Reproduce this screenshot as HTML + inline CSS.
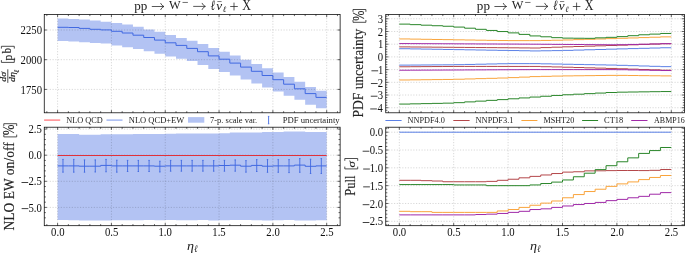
<!DOCTYPE html>
<html><head><meta charset="utf-8"><style>
html,body{margin:0;padding:0;background:#fff;}
body{width:685px;height:253px;overflow:hidden;}
svg{display:block;will-change:transform;font-family:"Liberation Serif",serif;}
</style></head><body>
<svg width="685" height="253" viewBox="0 0 685 253">
<defs>
<clipPath id="ctl"><rect x="44.25" y="14.5" width="295.87" height="98.3"/></clipPath>
<clipPath id="cbl"><rect x="44.25" y="127.2" width="295.87" height="98.5"/></clipPath>
<clipPath id="ctr"><rect x="385.75" y="14.5" width="298.65" height="98.3"/></clipPath>
<clipPath id="cbr"><rect x="385.75" y="127.2" width="298.65" height="98.5"/></clipPath>
</defs>
<g>
<rect width="685" height="253" fill="#fff"/>
<g clip-path="url(#ctl)">
<path d="M57.6 18.4 L68.36 18.4 L68.36 18.9 L79.13 18.9 L79.13 19.5 L89.89 19.5 L89.89 20.6 L100.66 20.6 L100.66 21.7 L111.42 21.7 L111.42 23.1 L122.18 23.1 L122.18 24.6 L132.95 24.6 L132.95 26.8 L143.71 26.8 L143.71 29.5 L154.48 29.5 L154.48 31.7 L165.24 31.7 L165.24 35 L176 35 L176 37.9 L186.77 37.9 L186.77 40.8 L197.53 40.8 L197.53 43.9 L208.3 43.9 L208.3 48.1 L219.06 48.1 L219.06 51.7 L229.82 51.7 L229.82 55.6 L240.59 55.6 L240.59 59.7 L251.35 59.7 L251.35 64 L262.12 64 L262.12 68.2 L272.88 68.2 L272.88 72.4 L283.64 72.4 L283.64 77 L294.41 77 L294.41 81.7 L305.17 81.7 L305.17 87 L315.94 87 L315.94 90.8 L326.7 90.8 L326.7 108.2 L315.94 108.2 L315.94 104.7 L305.17 104.7 L305.17 99.8 L294.41 99.8 L294.41 95.8 L283.64 95.8 L283.64 91.4 L272.88 91.4 L272.88 87.4 L262.12 87.4 L262.12 83.5 L251.35 83.5 L251.35 79.4 L240.59 79.4 L240.59 75.6 L229.82 75.6 L229.82 72 L219.06 72 L219.06 68.9 L208.3 68.9 L208.3 65 L197.53 65 L197.53 61 L186.77 61 L186.77 58.7 L176 58.7 L176 56.5 L165.24 56.5 L165.24 53.8 L154.48 53.8 L154.48 51.2 L143.71 51.2 L143.71 49 L132.95 49 L132.95 47.2 L122.18 47.2 L122.18 45.4 L111.42 45.4 L111.42 43.6 L100.66 43.6 L100.66 43 L89.89 43 L89.89 42.3 L79.13 42.3 L79.13 41.4 L68.36 41.4 L68.36 41 L57.6 41 Z" fill="#b3c3f3" stroke="none"/>
<path d="M57.6 112.8 V14.5 M111.42 112.8 V14.5 M165.24 112.8 V14.5 M219.06 112.8 V14.5 M272.88 112.8 V14.5 M326.7 112.8 V14.5 M44.25 30 H340.12 M44.25 59.7 H340.12 M44.25 89.4 H340.12" stroke="#000" stroke-opacity="0.2" stroke-width="0.8" stroke-dasharray="1.2 1.55" fill="none"/>
<path d="M57.6 27.3 L68.36 27.3 L68.36 27.5 L79.13 27.5 L79.13 28.4 L89.89 28.4 L89.89 29.3 L100.66 29.3 L100.66 29.9 L111.42 29.9 L111.42 31.3 L122.18 31.3 L122.18 33 L132.95 33 L132.95 35.2 L143.71 35.2 L143.71 37.5 L154.48 37.5 L154.48 40.1 L165.24 40.1 L165.24 42.8 L176 42.8 L176 45.4 L186.77 45.4 L186.77 48.4 L197.53 48.4 L197.53 51.7 L208.3 51.7 L208.3 55.9 L219.06 55.9 L219.06 59.2 L229.82 59.2 L229.82 63.1 L240.59 63.1 L240.59 67.1 L251.35 67.1 L251.35 71.3 L262.12 71.3 L262.12 75.5 L272.88 75.5 L272.88 79.7 L283.64 79.7 L283.64 84.2 L294.41 84.2 L294.41 88.8 L305.17 88.8 L305.17 93.6 L315.94 93.6 L315.94 97.4 L326.7 97.4" fill="none" stroke="#4169e1" stroke-width="1" stroke-linejoin="miter"/>
</g>
<path d="M46.84 14.5 v1.6 M46.84 112.8 v-1.6 M57.6 14.5 v2.7 M57.6 112.8 v-2.7 M68.36 14.5 v1.6 M68.36 112.8 v-1.6 M79.13 14.5 v1.6 M79.13 112.8 v-1.6 M89.89 14.5 v1.6 M89.89 112.8 v-1.6 M100.66 14.5 v1.6 M100.66 112.8 v-1.6 M111.42 14.5 v2.7 M111.42 112.8 v-2.7 M122.18 14.5 v1.6 M122.18 112.8 v-1.6 M132.95 14.5 v1.6 M132.95 112.8 v-1.6 M143.71 14.5 v1.6 M143.71 112.8 v-1.6 M154.48 14.5 v1.6 M154.48 112.8 v-1.6 M165.24 14.5 v2.7 M165.24 112.8 v-2.7 M176 14.5 v1.6 M176 112.8 v-1.6 M186.77 14.5 v1.6 M186.77 112.8 v-1.6 M197.53 14.5 v1.6 M197.53 112.8 v-1.6 M208.3 14.5 v1.6 M208.3 112.8 v-1.6 M219.06 14.5 v2.7 M219.06 112.8 v-2.7 M229.82 14.5 v1.6 M229.82 112.8 v-1.6 M240.59 14.5 v1.6 M240.59 112.8 v-1.6 M251.35 14.5 v1.6 M251.35 112.8 v-1.6 M262.12 14.5 v1.6 M262.12 112.8 v-1.6 M272.88 14.5 v2.7 M272.88 112.8 v-2.7 M283.64 14.5 v1.6 M283.64 112.8 v-1.6 M294.41 14.5 v1.6 M294.41 112.8 v-1.6 M305.17 14.5 v1.6 M305.17 112.8 v-1.6 M315.94 14.5 v1.6 M315.94 112.8 v-1.6 M326.7 14.5 v2.7 M326.7 112.8 v-2.7 M337.46 14.5 v1.6 M337.46 112.8 v-1.6 M44.25 30 h2.7 M340.12 30 h-2.7 M44.25 59.7 h2.7 M340.12 59.7 h-2.7 M44.25 89.4 h2.7 M340.12 89.4 h-2.7" stroke="#000" stroke-width="0.6" fill="none"/>
<rect x="44.25" y="14.5" width="295.87" height="98.3" fill="none" stroke="#000" stroke-width="0.75"/>
<g clip-path="url(#cbl)">
<path d="M57.6 134.1 L68.36 134.1 L68.36 134.1 L79.13 134.1 L79.13 134.7 L89.89 134.7 L89.89 134.7 L100.66 134.7 L100.66 134.2 L111.42 134.2 L111.42 134.2 L122.18 134.2 L122.18 134.2 L132.95 134.2 L132.95 134.1 L143.71 134.1 L143.71 134 L154.48 134 L154.48 134 L165.24 134 L165.24 133.7 L176 133.7 L176 133.4 L186.77 133.4 L186.77 133.4 L197.53 133.4 L197.53 133.4 L208.3 133.4 L208.3 133.4 L219.06 133.4 L219.06 133.3 L229.82 133.3 L229.82 132.5 L240.59 132.5 L240.59 132.5 L251.35 132.5 L251.35 132.5 L262.12 132.5 L262.12 132.1 L272.88 132.1 L272.88 132.1 L283.64 132.1 L283.64 131.4 L294.41 131.4 L294.41 131.4 L305.17 131.4 L305.17 132 L315.94 132 L315.94 132 L326.7 132 L326.7 220.2 L315.94 220.2 L315.94 220.5 L305.17 220.5 L305.17 220.6 L294.41 220.6 L294.41 220.1 L283.64 220.1 L283.64 220.2 L272.88 220.2 L272.88 220.4 L262.12 220.4 L262.12 220.3 L251.35 220.3 L251.35 220.1 L240.59 220.1 L240.59 219.9 L229.82 219.9 L229.82 220.3 L219.06 220.3 L219.06 220.4 L208.3 220.4 L208.3 220 L197.53 220 L197.53 220.3 L186.77 220.3 L186.77 220.2 L176 220.2 L176 220.1 L165.24 220.1 L165.24 220.3 L154.48 220.3 L154.48 220.1 L143.71 220.1 L143.71 220.3 L132.95 220.3 L132.95 220.2 L122.18 220.2 L122.18 220.3 L111.42 220.3 L111.42 220.5 L100.66 220.5 L100.66 220.4 L89.89 220.4 L89.89 220.4 L79.13 220.4 L79.13 220.3 L68.36 220.3 L68.36 220.1 L57.6 220.1 Z" fill="#b3c3f3" stroke="none"/>
<path d="M57.6 225.7 V127.2 M111.42 225.7 V127.2 M165.24 225.7 V127.2 M219.06 225.7 V127.2 M272.88 225.7 V127.2 M326.7 225.7 V127.2 M44.25 129.1 H340.12 M44.25 155.2 H340.12 M44.25 181.3 H340.12 M44.25 207.4 H340.12" stroke="#000" stroke-opacity="0.2" stroke-width="0.8" stroke-dasharray="1.2 1.55" fill="none"/>
<path d="M57.6 165.9 L68.36 165.9 L68.36 165.9 L79.13 165.9 L79.13 166.2 L89.89 166.2 L89.89 166.2 L100.66 166.2 L100.66 165.4 L111.42 165.4 L111.42 165.9 L122.18 165.9 L122.18 165.9 L132.95 165.9 L132.95 165.9 L143.71 165.9 L143.71 165.9 L154.48 165.9 L154.48 166.2 L165.24 166.2 L165.24 165.9 L176 165.9 L176 165.9 L186.77 165.9 L186.77 165.9 L197.53 165.9 L197.53 165.9 L208.3 165.9 L208.3 165.9 L219.06 165.9 L219.06 165.5 L229.82 165.5 L229.82 165.2 L240.59 165.2 L240.59 166.2 L251.35 166.2 L251.35 165.4 L262.12 165.4 L262.12 166.2 L272.88 166.2 L272.88 165.9 L283.64 165.9 L283.64 165.9 L294.41 165.9 L294.41 165.1 L305.17 165.1 L305.17 166.3 L315.94 166.3 L315.94 165.9 L326.7 165.9" fill="none" stroke="#4169e1" stroke-width="1"/>
<path d="M62.98 159.4 V172.2 M62.28 159.4 h1.4 M62.28 172.2 h1.4 M73.75 159.4 V172.2 M73.05 159.4 h1.4 M73.05 172.2 h1.4 M84.51 159.9 V172.2 M83.81 159.9 h1.4 M83.81 172.2 h1.4 M95.27 159.9 V172 M94.57 159.9 h1.4 M94.57 172 h1.4 M106.04 159.4 V171.8 M105.34 159.4 h1.4 M105.34 171.8 h1.4 M116.8 160.2 V172.2 M116.1 160.2 h1.4 M116.1 172.2 h1.4 M127.57 160.4 V171.5 M126.87 160.4 h1.4 M126.87 171.5 h1.4 M138.33 160.4 V171.5 M137.63 160.4 h1.4 M137.63 171.5 h1.4 M149.09 160.4 V171.5 M148.39 160.4 h1.4 M148.39 171.5 h1.4 M159.86 161.2 V172 M159.16 161.2 h1.4 M159.16 172 h1.4 M170.62 160.4 V171.2 M169.92 160.4 h1.4 M169.92 171.2 h1.4 M181.39 160.4 V171.2 M180.69 160.4 h1.4 M180.69 171.2 h1.4 M192.15 160.4 V171.2 M191.45 160.4 h1.4 M191.45 171.2 h1.4 M202.91 160.4 V171.2 M202.21 160.4 h1.4 M202.21 171.2 h1.4 M213.68 160.6 V171.2 M212.98 160.6 h1.4 M212.98 171.2 h1.4 M224.44 160.4 V171.2 M223.74 160.4 h1.4 M223.74 171.2 h1.4 M235.21 159.9 V171.2 M234.51 159.9 h1.4 M234.51 171.2 h1.4 M245.97 160.6 V172.2 M245.27 160.6 h1.4 M245.27 172.2 h1.4 M256.73 159.6 V171.5 M256.03 159.6 h1.4 M256.03 171.5 h1.4 M267.5 159.6 V172.3 M266.8 159.6 h1.4 M266.8 172.3 h1.4 M278.26 159.6 V172.3 M277.56 159.6 h1.4 M277.56 172.3 h1.4 M289.03 159.6 V172.6 M288.33 159.6 h1.4 M288.33 172.6 h1.4 M299.79 158.6 V172.3 M299.09 158.6 h1.4 M299.09 172.3 h1.4 M310.55 159.2 V173.5 M309.85 159.2 h1.4 M309.85 173.5 h1.4 M321.32 158.6 V173.5 M320.62 158.6 h1.4 M320.62 173.5 h1.4" fill="none" stroke="#4169e1" stroke-width="0.9"/>
<line x1="57.6" y1="155.5" x2="326.7" y2="155.5" stroke="#e0313a" stroke-width="1.1" />
</g>
<path d="M46.84 127.2 v1.6 M46.84 225.7 v-1.6 M57.6 127.2 v2.7 M57.6 225.7 v-2.7 M68.36 127.2 v1.6 M68.36 225.7 v-1.6 M79.13 127.2 v1.6 M79.13 225.7 v-1.6 M89.89 127.2 v1.6 M89.89 225.7 v-1.6 M100.66 127.2 v1.6 M100.66 225.7 v-1.6 M111.42 127.2 v2.7 M111.42 225.7 v-2.7 M122.18 127.2 v1.6 M122.18 225.7 v-1.6 M132.95 127.2 v1.6 M132.95 225.7 v-1.6 M143.71 127.2 v1.6 M143.71 225.7 v-1.6 M154.48 127.2 v1.6 M154.48 225.7 v-1.6 M165.24 127.2 v2.7 M165.24 225.7 v-2.7 M176 127.2 v1.6 M176 225.7 v-1.6 M186.77 127.2 v1.6 M186.77 225.7 v-1.6 M197.53 127.2 v1.6 M197.53 225.7 v-1.6 M208.3 127.2 v1.6 M208.3 225.7 v-1.6 M219.06 127.2 v2.7 M219.06 225.7 v-2.7 M229.82 127.2 v1.6 M229.82 225.7 v-1.6 M240.59 127.2 v1.6 M240.59 225.7 v-1.6 M251.35 127.2 v1.6 M251.35 225.7 v-1.6 M262.12 127.2 v1.6 M262.12 225.7 v-1.6 M272.88 127.2 v2.7 M272.88 225.7 v-2.7 M283.64 127.2 v1.6 M283.64 225.7 v-1.6 M294.41 127.2 v1.6 M294.41 225.7 v-1.6 M305.17 127.2 v1.6 M305.17 225.7 v-1.6 M315.94 127.2 v1.6 M315.94 225.7 v-1.6 M326.7 127.2 v2.7 M326.7 225.7 v-2.7 M337.46 127.2 v1.6 M337.46 225.7 v-1.6 M44.25 129.1 h2.7 M340.12 129.1 h-2.7 M44.25 155.2 h2.7 M340.12 155.2 h-2.7 M44.25 181.3 h2.7 M340.12 181.3 h-2.7 M44.25 207.4 h2.7 M340.12 207.4 h-2.7 M44.25 134.32 h1.6 M340.12 134.32 h-1.6 M44.25 139.54 h1.6 M340.12 139.54 h-1.6 M44.25 144.76 h1.6 M340.12 144.76 h-1.6 M44.25 149.98 h1.6 M340.12 149.98 h-1.6 M44.25 160.42 h1.6 M340.12 160.42 h-1.6 M44.25 165.64 h1.6 M340.12 165.64 h-1.6 M44.25 170.86 h1.6 M340.12 170.86 h-1.6 M44.25 176.08 h1.6 M340.12 176.08 h-1.6 M44.25 186.52 h1.6 M340.12 186.52 h-1.6 M44.25 191.74 h1.6 M340.12 191.74 h-1.6 M44.25 196.96 h1.6 M340.12 196.96 h-1.6 M44.25 202.18 h1.6 M340.12 202.18 h-1.6 M44.25 212.62 h1.6 M340.12 212.62 h-1.6 M44.25 217.84 h1.6 M340.12 217.84 h-1.6" stroke="#000" stroke-width="0.6" fill="none"/>
<rect x="44.25" y="127.2" width="295.87" height="98.5" fill="none" stroke="#000" stroke-width="0.75"/>
<g clip-path="url(#ctr)">
<path d="M399.3 112.8 V14.5 M453.7 112.8 V14.5 M508.1 112.8 V14.5 M562.5 112.8 V14.5 M616.9 112.8 V14.5 M671.3 112.8 V14.5 M385.75 18.77 H684.4 M385.75 31.48 H684.4 M385.75 44.19 H684.4 M385.75 56.9 H684.4 M385.75 69.61 H684.4 M385.75 82.32 H684.4 M385.75 95.03 H684.4 M385.75 107.74 H684.4" stroke="#000" stroke-opacity="0.2" stroke-width="0.8" stroke-dasharray="1.2 1.55" fill="none"/>
<path d="M399.3 48.73 L410.18 48.73 L410.18 48.91 L421.06 48.91 L421.06 49.1 L431.94 49.1 L431.94 49.28 L442.82 49.28 L442.82 49.46 L453.7 49.46 L453.7 49.65 L464.58 49.65 L464.58 49.83 L475.46 49.83 L475.46 50.01 L486.34 50.01 L486.34 50.19 L497.22 50.19 L497.22 50.38 L508.1 50.38 L508.1 50.56 L518.98 50.56 L518.98 50.74 L529.86 50.74 L529.86 50.93 L540.74 50.93 L540.74 50.77 L551.62 50.77 L551.62 50.62 L562.5 50.62 L562.5 50.39 L573.38 50.39 L573.38 50.09 L584.26 50.09 L584.26 49.78 L595.14 49.78 L595.14 49.48 L606.02 49.48 L606.02 49.17 L616.9 49.17 L616.9 48.88 L627.78 48.88 L627.78 48.6 L638.66 48.6 L638.66 48.32 L649.54 48.32 L649.54 48.04 L660.42 48.04 L660.42 47.76 L671.3 47.76" fill="none" stroke="#5b80e6" stroke-width="1"/>
<path d="M399.3 65.12 L410.18 65.12 L410.18 65.05 L421.06 65.05 L421.06 64.97 L431.94 64.97 L431.94 64.89 L442.82 64.89 L442.82 64.82 L453.7 64.82 L453.7 64.67 L464.58 64.67 L464.58 64.44 L475.46 64.44 L475.46 64.21 L486.34 64.21 L486.34 63.98 L497.22 63.98 L497.22 63.75 L508.1 63.75 L508.1 63.64 L518.98 63.64 L518.98 63.64 L529.86 63.64 L529.86 63.64 L540.74 63.64 L540.74 63.84 L551.62 63.84 L551.62 64.04 L562.5 64.04 L562.5 64.25 L573.38 64.25 L573.38 64.45 L584.26 64.45 L584.26 64.65 L595.14 64.65 L595.14 64.86 L606.02 64.86 L606.02 65.06 L616.9 65.06 L616.9 65.33 L627.78 65.33 L627.78 65.66 L638.66 65.66 L638.66 65.99 L649.54 65.99 L649.54 66.32 L660.42 66.32 L660.42 66.65 L671.3 66.65" fill="none" stroke="#5b80e6" stroke-width="1"/>
<path d="M399.3 46.9 L410.18 46.9 L410.18 47 L421.06 47 L421.06 47.09 L431.94 47.09 L431.94 47.18 L442.82 47.18 L442.82 47.27 L453.7 47.27 L453.7 47.36 L464.58 47.36 L464.58 47.45 L475.46 47.45 L475.46 47.55 L486.34 47.55 L486.34 47.64 L497.22 47.64 L497.22 47.73 L508.1 47.73 L508.1 47.82 L518.98 47.82 L518.98 47.91 L529.86 47.91 L529.86 48 L540.74 48 L540.74 47.6 L551.62 47.6 L551.62 47.19 L562.5 47.19 L562.5 46.82 L573.38 46.82 L573.38 46.49 L584.26 46.49 L584.26 46.16 L595.14 46.16 L595.14 45.83 L606.02 45.83 L606.02 45.5 L616.9 45.5 L616.9 45.16 L627.78 45.16 L627.78 44.8 L638.66 44.8 L638.66 44.44 L649.54 44.44 L649.54 44.09 L660.42 44.09 L660.42 43.73 L671.3 43.73" fill="none" stroke="#b4474a" stroke-width="1"/>
<path d="M399.3 66.78 L410.18 66.78 L410.18 66.7 L421.06 66.7 L421.06 66.62 L431.94 66.62 L431.94 66.55 L442.82 66.55 L442.82 66.47 L453.7 66.47 L453.7 66.43 L464.58 66.43 L464.58 66.43 L475.46 66.43 L475.46 66.43 L486.34 66.43 L486.34 66.43 L497.22 66.43 L497.22 66.43 L508.1 66.43 L508.1 66.43 L518.98 66.43 L518.98 66.43 L529.86 66.43 L529.86 66.43 L540.74 66.43 L540.74 66.69 L551.62 66.69 L551.62 66.94 L562.5 66.94 L562.5 67.22 L573.38 67.22 L573.38 67.53 L584.26 67.53 L584.26 67.83 L595.14 67.83 L595.14 68.14 L606.02 68.14 L606.02 68.44 L616.9 68.44 L616.9 68.77 L627.78 68.77 L627.78 69.13 L638.66 69.13 L638.66 69.48 L649.54 69.48 L649.54 69.84 L660.42 69.84 L660.42 70.19 L671.3 70.19" fill="none" stroke="#b4474a" stroke-width="1"/>
<path d="M399.3 38.94 L410.18 38.94 L410.18 39.12 L421.06 39.12 L421.06 39.3 L431.94 39.3 L431.94 39.47 L442.82 39.47 L442.82 39.65 L453.7 39.65 L453.7 39.83 L464.58 39.83 L464.58 40.01 L475.46 40.01 L475.46 40.19 L486.34 40.19 L486.34 40.36 L497.22 40.36 L497.22 40.54 L508.1 40.54 L508.1 40.63 L518.98 40.63 L518.98 40.63 L529.86 40.63 L529.86 40.63 L540.74 40.63 L540.74 40.43 L551.62 40.43 L551.62 40.22 L562.5 40.22 L562.5 39.96 L573.38 39.96 L573.38 39.63 L584.26 39.63 L584.26 39.3 L595.14 39.3 L595.14 38.97 L606.02 38.97 L606.02 38.64 L616.9 38.64 L616.9 38.29 L627.78 38.29 L627.78 37.94 L638.66 37.94 L638.66 37.58 L649.54 37.58 L649.54 37.22 L660.42 37.22 L660.42 36.87 L671.3 36.87" fill="none" stroke="#f9a43c" stroke-width="1"/>
<path d="M399.3 79.97 L410.18 79.97 L410.18 79.84 L421.06 79.84 L421.06 79.71 L431.94 79.71 L431.94 79.59 L442.82 79.59 L442.82 79.46 L453.7 79.46 L453.7 79.24 L464.58 79.24 L464.58 78.94 L475.46 78.94 L475.46 78.63 L486.34 78.63 L486.34 78.33 L497.22 78.33 L497.22 78.02 L508.1 78.02 L508.1 77.62 L518.98 77.62 L518.98 77.11 L529.86 77.11 L529.86 76.6 L540.74 76.6 L540.74 76.35 L551.62 76.35 L551.62 76.09 L562.5 76.09 L562.5 75.9 L573.38 75.9 L573.38 75.77 L584.26 75.77 L584.26 75.65 L595.14 75.65 L595.14 75.52 L606.02 75.52 L606.02 75.39 L616.9 75.39 L616.9 75.39 L627.78 75.39 L627.78 75.52 L638.66 75.52 L638.66 75.65 L649.54 75.65 L649.54 75.77 L660.42 75.77 L660.42 75.9 L671.3 75.9" fill="none" stroke="#f9a43c" stroke-width="1"/>
<path d="M399.3 24.12 L410.18 24.12 L410.18 24.65 L421.06 24.65 L421.06 25.19 L431.94 25.19 L431.94 25.72 L442.82 25.72 L442.82 26.26 L453.7 26.26 L453.7 27.08 L464.58 27.08 L464.58 28.2 L475.46 28.2 L475.46 29.32 L486.34 29.32 L486.34 30.44 L497.22 30.44 L497.22 31.56 L508.1 31.56 L508.1 32.88 L518.98 32.88 L518.98 34.4 L529.86 34.4 L529.86 35.93 L540.74 35.93 L540.74 36.79 L551.62 36.79 L551.62 37.66 L562.5 37.66 L562.5 38.14 L573.38 38.14 L573.38 38.24 L584.26 38.24 L584.26 38.34 L595.14 38.34 L595.14 37.83 L606.02 37.83 L606.02 37.33 L616.9 37.33 L616.9 36.61 L627.78 36.61 L627.78 35.7 L638.66 35.7 L638.66 34.78 L649.54 34.78 L649.54 34.12 L660.42 34.12 L660.42 33.46 L671.3 33.46" fill="none" stroke="#2a862a" stroke-width="1"/>
<path d="M399.3 104.07 L410.18 104.07 L410.18 103.84 L421.06 103.84 L421.06 103.61 L431.94 103.61 L431.94 103.38 L442.82 103.38 L442.82 103.15 L453.7 103.15 L453.7 102.66 L464.58 102.66 L464.58 101.89 L475.46 101.89 L475.46 101.13 L486.34 101.13 L486.34 100.37 L497.22 100.37 L497.22 99.61 L508.1 99.61 L508.1 98.79 L518.98 98.79 L518.98 97.93 L529.86 97.93 L529.86 97.06 L540.74 97.06 L540.74 96.25 L551.62 96.25 L551.62 95.44 L562.5 95.44 L562.5 94.75 L573.38 94.75 L573.38 94.19 L584.26 94.19 L584.26 93.63 L595.14 93.63 L595.14 93.07 L606.02 93.07 L606.02 92.51 L616.9 92.51 L616.9 92.16 L627.78 92.16 L627.78 92.01 L638.66 92.01 L638.66 91.85 L649.54 91.85 L649.54 91.7 L660.42 91.7 L660.42 91.55 L671.3 91.55" fill="none" stroke="#2a862a" stroke-width="1"/>
<path d="M399.3 43.58 L410.18 43.58 L410.18 43.63 L421.06 43.63 L421.06 43.68 L431.94 43.68 L431.94 43.73 L442.82 43.73 L442.82 43.78 L453.7 43.78 L453.7 43.83 L464.58 43.83 L464.58 43.88 L475.46 43.88 L475.46 43.94 L486.34 43.94 L486.34 43.99 L497.22 43.99 L497.22 44.04 L508.1 44.04 L508.1 44.09 L518.98 44.09 L518.98 44.14 L529.86 44.14 L529.86 44.19 L540.74 44.19 L540.74 44.27 L551.62 44.27 L551.62 44.36 L562.5 44.36 L562.5 44.44 L573.38 44.44 L573.38 44.53 L584.26 44.53 L584.26 44.61 L595.14 44.61 L595.14 44.7 L606.02 44.7 L606.02 44.78 L616.9 44.78 L616.9 44.7 L627.78 44.7 L627.78 44.44 L638.66 44.44 L638.66 44.19 L649.54 44.19 L649.54 43.94 L660.42 43.94 L660.42 43.68 L671.3 43.68" fill="none" stroke="#a02aa8" stroke-width="1"/>
<path d="M399.3 70.22 L410.18 70.22 L410.18 70.17 L421.06 70.17 L421.06 70.12 L431.94 70.12 L431.94 70.07 L442.82 70.07 L442.82 70.02 L453.7 70.02 L453.7 69.97 L464.58 69.97 L464.58 69.92 L475.46 69.92 L475.46 69.86 L486.34 69.86 L486.34 69.81 L497.22 69.81 L497.22 69.76 L508.1 69.76 L508.1 69.71 L518.98 69.71 L518.98 69.66 L529.86 69.66 L529.86 69.61 L540.74 69.61 L540.74 69.61 L551.62 69.61 L551.62 69.61 L562.5 69.61 L562.5 69.61 L573.38 69.61 L573.38 69.61 L584.26 69.61 L584.26 69.61 L595.14 69.61 L595.14 69.61 L606.02 69.61 L606.02 69.61 L616.9 69.61 L616.9 69.71 L627.78 69.71 L627.78 69.92 L638.66 69.92 L638.66 70.12 L649.54 70.12 L649.54 70.32 L660.42 70.32 L660.42 70.53 L671.3 70.53" fill="none" stroke="#a02aa8" stroke-width="1"/>
</g>
<path d="M388.42 14.5 v1.6 M388.42 112.8 v-1.6 M399.3 14.5 v2.7 M399.3 112.8 v-2.7 M410.18 14.5 v1.6 M410.18 112.8 v-1.6 M421.06 14.5 v1.6 M421.06 112.8 v-1.6 M431.94 14.5 v1.6 M431.94 112.8 v-1.6 M442.82 14.5 v1.6 M442.82 112.8 v-1.6 M453.7 14.5 v2.7 M453.7 112.8 v-2.7 M464.58 14.5 v1.6 M464.58 112.8 v-1.6 M475.46 14.5 v1.6 M475.46 112.8 v-1.6 M486.34 14.5 v1.6 M486.34 112.8 v-1.6 M497.22 14.5 v1.6 M497.22 112.8 v-1.6 M508.1 14.5 v2.7 M508.1 112.8 v-2.7 M518.98 14.5 v1.6 M518.98 112.8 v-1.6 M529.86 14.5 v1.6 M529.86 112.8 v-1.6 M540.74 14.5 v1.6 M540.74 112.8 v-1.6 M551.62 14.5 v1.6 M551.62 112.8 v-1.6 M562.5 14.5 v2.7 M562.5 112.8 v-2.7 M573.38 14.5 v1.6 M573.38 112.8 v-1.6 M584.26 14.5 v1.6 M584.26 112.8 v-1.6 M595.14 14.5 v1.6 M595.14 112.8 v-1.6 M606.02 14.5 v1.6 M606.02 112.8 v-1.6 M616.9 14.5 v2.7 M616.9 112.8 v-2.7 M627.78 14.5 v1.6 M627.78 112.8 v-1.6 M638.66 14.5 v1.6 M638.66 112.8 v-1.6 M649.54 14.5 v1.6 M649.54 112.8 v-1.6 M660.42 14.5 v1.6 M660.42 112.8 v-1.6 M671.3 14.5 v2.7 M671.3 112.8 v-2.7 M682.18 14.5 v1.6 M682.18 112.8 v-1.6 M385.75 18.77 h2.7 M684.4 18.77 h-2.7 M385.75 31.48 h2.7 M684.4 31.48 h-2.7 M385.75 44.19 h2.7 M684.4 44.19 h-2.7 M385.75 56.9 h2.7 M684.4 56.9 h-2.7 M385.75 69.61 h2.7 M684.4 69.61 h-2.7 M385.75 82.32 h2.7 M684.4 82.32 h-2.7 M385.75 95.03 h2.7 M684.4 95.03 h-2.7 M385.75 107.74 h2.7 M684.4 107.74 h-2.7 M385.75 16.23 h1.6 M684.4 16.23 h-1.6 M385.75 21.31 h1.6 M684.4 21.31 h-1.6 M385.75 23.85 h1.6 M684.4 23.85 h-1.6 M385.75 26.4 h1.6 M684.4 26.4 h-1.6 M385.75 28.94 h1.6 M684.4 28.94 h-1.6 M385.75 34.02 h1.6 M684.4 34.02 h-1.6 M385.75 36.56 h1.6 M684.4 36.56 h-1.6 M385.75 39.11 h1.6 M684.4 39.11 h-1.6 M385.75 41.65 h1.6 M684.4 41.65 h-1.6 M385.75 46.73 h1.6 M684.4 46.73 h-1.6 M385.75 49.27 h1.6 M684.4 49.27 h-1.6 M385.75 51.82 h1.6 M684.4 51.82 h-1.6 M385.75 54.36 h1.6 M684.4 54.36 h-1.6 M385.75 59.44 h1.6 M684.4 59.44 h-1.6 M385.75 61.98 h1.6 M684.4 61.98 h-1.6 M385.75 64.53 h1.6 M684.4 64.53 h-1.6 M385.75 67.07 h1.6 M684.4 67.07 h-1.6 M385.75 72.15 h1.6 M684.4 72.15 h-1.6 M385.75 74.69 h1.6 M684.4 74.69 h-1.6 M385.75 77.24 h1.6 M684.4 77.24 h-1.6 M385.75 79.78 h1.6 M684.4 79.78 h-1.6 M385.75 84.86 h1.6 M684.4 84.86 h-1.6 M385.75 87.4 h1.6 M684.4 87.4 h-1.6 M385.75 89.95 h1.6 M684.4 89.95 h-1.6 M385.75 92.49 h1.6 M684.4 92.49 h-1.6 M385.75 97.57 h1.6 M684.4 97.57 h-1.6 M385.75 100.11 h1.6 M684.4 100.11 h-1.6 M385.75 102.66 h1.6 M684.4 102.66 h-1.6 M385.75 105.2 h1.6 M684.4 105.2 h-1.6 M385.75 110.28 h1.6 M684.4 110.28 h-1.6" stroke="#000" stroke-width="0.6" fill="none"/>
<rect x="385.75" y="14.5" width="298.65" height="98.3" fill="none" stroke="#000" stroke-width="0.75"/>
<g clip-path="url(#cbr)">
<path d="M399.3 225.7 V127.2 M453.7 225.7 V127.2 M508.1 225.7 V127.2 M562.5 225.7 V127.2 M616.9 225.7 V127.2 M671.3 225.7 V127.2 M385.75 132.2 H684.4 M385.75 150.02 H684.4 M385.75 167.84 H684.4 M385.75 185.66 H684.4 M385.75 203.48 H684.4 M385.75 221.3 H684.4" stroke="#000" stroke-opacity="0.2" stroke-width="0.8" stroke-dasharray="1.2 1.55" fill="none"/>
<line x1="399.3" y1="132.2" x2="671.3" y2="132.2" stroke="#5b80e6" stroke-width="1" />
<path d="M399.3 180.31 L410.18 180.31 L410.18 180.31 L421.06 180.31 L421.06 180.67 L431.94 180.67 L431.94 181.03 L442.82 181.03 L442.82 181.74 L453.7 181.74 L453.7 181.74 L464.58 181.74 L464.58 181.74 L475.46 181.74 L475.46 181.74 L486.34 181.74 L486.34 181.38 L497.22 181.38 L497.22 180.31 L508.1 180.31 L508.1 179.24 L518.98 179.24 L518.98 177.82 L529.86 177.82 L529.86 176.39 L540.74 176.39 L540.74 174.97 L551.62 174.97 L551.62 173.54 L562.5 173.54 L562.5 172.12 L573.38 172.12 L573.38 171.76 L584.26 171.76 L584.26 170.87 L595.14 170.87 L595.14 170.8 L606.02 170.8 L606.02 170.62 L616.9 170.62 L616.9 170.51 L627.78 170.51 L627.78 170.51 L638.66 170.51 L638.66 170.58 L649.54 170.58 L649.54 170.33 L660.42 170.33 L660.42 169.52 L671.3 169.52" fill="none" stroke="#b4474a" stroke-width="1"/>
<path d="M399.3 184.59 L410.18 184.59 L410.18 184.59 L421.06 184.59 L421.06 184.59 L431.94 184.59 L431.94 184.59 L442.82 184.59 L442.82 184.59 L453.7 184.59 L453.7 184.95 L464.58 184.95 L464.58 184.95 L475.46 184.95 L475.46 184.95 L486.34 184.95 L486.34 185.66 L497.22 185.66 L497.22 185.66 L508.1 185.66 L508.1 185.66 L518.98 185.66 L518.98 185.66 L529.86 185.66 L529.86 184.95 L540.74 184.95 L540.74 183.52 L551.62 183.52 L551.62 182.1 L562.5 182.1 L562.5 179.96 L573.38 179.96 L573.38 176.75 L584.26 176.75 L584.26 173.19 L595.14 173.19 L595.14 169.62 L606.02 169.62 L606.02 165.7 L616.9 165.7 L616.9 161.78 L627.78 161.78 L627.78 157.86 L638.66 157.86 L638.66 153.41 L649.54 153.41 L649.54 150.59 L660.42 150.59 L660.42 147.49 L671.3 147.49" fill="none" stroke="#2a862a" stroke-width="1"/>
<path d="M399.3 211.32 L410.18 211.32 L410.18 211.68 L421.06 211.68 L421.06 211.68 L431.94 211.68 L431.94 212.39 L442.82 212.39 L442.82 212.39 L453.7 212.39 L453.7 212.39 L464.58 212.39 L464.58 212.39 L475.46 212.39 L475.46 212.39 L486.34 212.39 L486.34 212.39 L497.22 212.39 L497.22 210.96 L508.1 210.96 L508.1 209.54 L518.98 209.54 L518.98 207.4 L529.86 207.4 L529.86 205.26 L540.74 205.26 L540.74 203.12 L551.62 203.12 L551.62 200.99 L562.5 200.99 L562.5 197.78 L573.38 197.78 L573.38 194.57 L584.26 194.57 L584.26 191.54 L595.14 191.54 L595.14 189.22 L606.02 189.22 L606.02 186.37 L616.9 186.37 L616.9 183.88 L627.78 183.88 L627.78 181.92 L638.66 181.92 L638.66 179.6 L649.54 179.6 L649.54 177.46 L660.42 177.46 L660.42 175.5 L671.3 175.5" fill="none" stroke="#f9a43c" stroke-width="1"/>
<path d="M399.3 214.88 L410.18 214.88 L410.18 214.88 L421.06 214.88 L421.06 214.88 L431.94 214.88 L431.94 214.88 L442.82 214.88 L442.82 214.88 L453.7 214.88 L453.7 214.88 L464.58 214.88 L464.58 214.88 L475.46 214.88 L475.46 214.53 L486.34 214.53 L486.34 214.17 L497.22 214.17 L497.22 213.46 L508.1 213.46 L508.1 212.39 L518.98 212.39 L518.98 211.32 L529.86 211.32 L529.86 209.54 L540.74 209.54 L540.74 208.83 L551.62 208.83 L551.62 207.4 L562.5 207.4 L562.5 205.97 L573.38 205.97 L573.38 204.55 L584.26 204.55 L584.26 203.48 L595.14 203.48 L595.14 202.41 L606.02 202.41 L606.02 200.63 L616.9 200.63 L616.9 199.38 L627.78 199.38 L627.78 197.78 L638.66 197.78 L638.66 196.35 L649.54 196.35 L649.54 194.21 L660.42 194.21 L660.42 192.61 L671.3 192.61" fill="none" stroke="#a02aa8" stroke-width="1"/>
</g>
<path d="M388.42 127.2 v1.6 M388.42 225.7 v-1.6 M399.3 127.2 v2.7 M399.3 225.7 v-2.7 M410.18 127.2 v1.6 M410.18 225.7 v-1.6 M421.06 127.2 v1.6 M421.06 225.7 v-1.6 M431.94 127.2 v1.6 M431.94 225.7 v-1.6 M442.82 127.2 v1.6 M442.82 225.7 v-1.6 M453.7 127.2 v2.7 M453.7 225.7 v-2.7 M464.58 127.2 v1.6 M464.58 225.7 v-1.6 M475.46 127.2 v1.6 M475.46 225.7 v-1.6 M486.34 127.2 v1.6 M486.34 225.7 v-1.6 M497.22 127.2 v1.6 M497.22 225.7 v-1.6 M508.1 127.2 v2.7 M508.1 225.7 v-2.7 M518.98 127.2 v1.6 M518.98 225.7 v-1.6 M529.86 127.2 v1.6 M529.86 225.7 v-1.6 M540.74 127.2 v1.6 M540.74 225.7 v-1.6 M551.62 127.2 v1.6 M551.62 225.7 v-1.6 M562.5 127.2 v2.7 M562.5 225.7 v-2.7 M573.38 127.2 v1.6 M573.38 225.7 v-1.6 M584.26 127.2 v1.6 M584.26 225.7 v-1.6 M595.14 127.2 v1.6 M595.14 225.7 v-1.6 M606.02 127.2 v1.6 M606.02 225.7 v-1.6 M616.9 127.2 v2.7 M616.9 225.7 v-2.7 M627.78 127.2 v1.6 M627.78 225.7 v-1.6 M638.66 127.2 v1.6 M638.66 225.7 v-1.6 M649.54 127.2 v1.6 M649.54 225.7 v-1.6 M660.42 127.2 v1.6 M660.42 225.7 v-1.6 M671.3 127.2 v2.7 M671.3 225.7 v-2.7 M682.18 127.2 v1.6 M682.18 225.7 v-1.6 M385.75 132.2 h2.7 M684.4 132.2 h-2.7 M385.75 150.02 h2.7 M684.4 150.02 h-2.7 M385.75 167.84 h2.7 M684.4 167.84 h-2.7 M385.75 185.66 h2.7 M684.4 185.66 h-2.7 M385.75 203.48 h2.7 M684.4 203.48 h-2.7 M385.75 221.3 h2.7 M684.4 221.3 h-2.7 M385.75 128.64 h1.6 M684.4 128.64 h-1.6 M385.75 135.76 h1.6 M684.4 135.76 h-1.6 M385.75 139.33 h1.6 M684.4 139.33 h-1.6 M385.75 142.89 h1.6 M684.4 142.89 h-1.6 M385.75 146.46 h1.6 M684.4 146.46 h-1.6 M385.75 153.58 h1.6 M684.4 153.58 h-1.6 M385.75 157.15 h1.6 M684.4 157.15 h-1.6 M385.75 160.71 h1.6 M684.4 160.71 h-1.6 M385.75 164.28 h1.6 M684.4 164.28 h-1.6 M385.75 171.4 h1.6 M684.4 171.4 h-1.6 M385.75 174.97 h1.6 M684.4 174.97 h-1.6 M385.75 178.53 h1.6 M684.4 178.53 h-1.6 M385.75 182.1 h1.6 M684.4 182.1 h-1.6 M385.75 189.22 h1.6 M684.4 189.22 h-1.6 M385.75 192.79 h1.6 M684.4 192.79 h-1.6 M385.75 196.35 h1.6 M684.4 196.35 h-1.6 M385.75 199.92 h1.6 M684.4 199.92 h-1.6 M385.75 207.04 h1.6 M684.4 207.04 h-1.6 M385.75 210.61 h1.6 M684.4 210.61 h-1.6 M385.75 214.17 h1.6 M684.4 214.17 h-1.6 M385.75 217.74 h1.6 M684.4 217.74 h-1.6 M385.75 224.86 h1.6 M684.4 224.86 h-1.6" stroke="#000" stroke-width="0.6" fill="none"/>
<rect x="385.75" y="127.2" width="298.65" height="98.5" fill="none" stroke="#000" stroke-width="0.75"/>
<text x="51.11" y="235.9" font-size="11.7" font-family="Liberation Serif" fill="#111" textLength="13.38" lengthAdjust="spacingAndGlyphs" >0.0</text>
<text x="104.94" y="235.9" font-size="11.7" font-family="Liberation Serif" fill="#111" textLength="13.38" lengthAdjust="spacingAndGlyphs" >0.5</text>
<text x="158.49" y="235.9" font-size="11.7" font-family="Liberation Serif" fill="#111" textLength="13.38" lengthAdjust="spacingAndGlyphs" >1.0</text>
<text x="212.31" y="235.9" font-size="11.7" font-family="Liberation Serif" fill="#111" textLength="13.38" lengthAdjust="spacingAndGlyphs" >1.5</text>
<text x="266.36" y="235.9" font-size="11.7" font-family="Liberation Serif" fill="#111" textLength="13.38" lengthAdjust="spacingAndGlyphs" >2.0</text>
<text x="320.19" y="235.9" font-size="11.7" font-family="Liberation Serif" fill="#111" textLength="13.38" lengthAdjust="spacingAndGlyphs" >2.5</text>
<text x="392.81" y="235.9" font-size="11.7" font-family="Liberation Serif" fill="#111" textLength="13.38" lengthAdjust="spacingAndGlyphs" >0.0</text>
<text x="447.22" y="235.9" font-size="11.7" font-family="Liberation Serif" fill="#111" textLength="13.38" lengthAdjust="spacingAndGlyphs" >0.5</text>
<text x="501.35" y="235.9" font-size="11.7" font-family="Liberation Serif" fill="#111" textLength="13.38" lengthAdjust="spacingAndGlyphs" >1.0</text>
<text x="555.75" y="235.9" font-size="11.7" font-family="Liberation Serif" fill="#111" textLength="13.38" lengthAdjust="spacingAndGlyphs" >1.5</text>
<text x="610.38" y="235.9" font-size="11.7" font-family="Liberation Serif" fill="#111" textLength="13.38" lengthAdjust="spacingAndGlyphs" >2.0</text>
<text x="664.79" y="235.9" font-size="11.7" font-family="Liberation Serif" fill="#111" textLength="13.38" lengthAdjust="spacingAndGlyphs" >2.5</text>
<text x="20.61" y="34.18" font-size="11.7" font-family="Liberation Serif" fill="#111" textLength="21.4" lengthAdjust="spacingAndGlyphs" >2250</text>
<text x="20.61" y="63.88" font-size="11.7" font-family="Liberation Serif" fill="#111" textLength="21.4" lengthAdjust="spacingAndGlyphs" >2000</text>
<text x="20.61" y="93.58" font-size="11.7" font-family="Liberation Serif" fill="#111" textLength="21.4" lengthAdjust="spacingAndGlyphs" >1750</text>
<text x="28.44" y="133.28" font-size="11.7" font-family="Liberation Serif" fill="#111" textLength="13.38" lengthAdjust="spacingAndGlyphs" >2.5</text>
<text x="28.43" y="159.38" font-size="11.7" font-family="Liberation Serif" fill="#111" textLength="13.38" lengthAdjust="spacingAndGlyphs" >0.0</text>
<text x="28.44" y="185.48" font-size="11.7" font-family="Liberation Serif" fill="#111" textLength="13.38" lengthAdjust="spacingAndGlyphs" >2.5</text>
<line x1="21.51" y1="182.5" x2="28.21" y2="182.5" stroke="#111" stroke-width="0.8" />
<text x="28.43" y="211.58" font-size="11.7" font-family="Liberation Serif" fill="#111" textLength="13.38" lengthAdjust="spacingAndGlyphs" >5.0</text>
<line x1="21.65" y1="208.6" x2="28.35" y2="208.6" stroke="#111" stroke-width="0.8" />
<text x="377.67" y="22.95" font-size="11.7" font-family="Liberation Serif" fill="#111" textLength="5.35" lengthAdjust="spacingAndGlyphs" >3</text>
<text x="377.84" y="35.66" font-size="11.7" font-family="Liberation Serif" fill="#111" textLength="5.35" lengthAdjust="spacingAndGlyphs" >2</text>
<text x="377.89" y="48.37" font-size="11.7" font-family="Liberation Serif" fill="#111" textLength="5.35" lengthAdjust="spacingAndGlyphs" >1</text>
<text x="377.66" y="61.08" font-size="11.7" font-family="Liberation Serif" fill="#111" textLength="5.35" lengthAdjust="spacingAndGlyphs" >0</text>
<text x="377.89" y="73.79" font-size="11.7" font-family="Liberation Serif" fill="#111" textLength="5.35" lengthAdjust="spacingAndGlyphs" >1</text>
<line x1="371.43" y1="70.81" x2="378.13" y2="70.81" stroke="#111" stroke-width="0.8" />
<text x="377.84" y="86.5" font-size="11.7" font-family="Liberation Serif" fill="#111" textLength="5.35" lengthAdjust="spacingAndGlyphs" >2</text>
<line x1="370.91" y1="83.52" x2="377.61" y2="83.52" stroke="#111" stroke-width="0.8" />
<text x="377.67" y="99.21" font-size="11.7" font-family="Liberation Serif" fill="#111" textLength="5.35" lengthAdjust="spacingAndGlyphs" >3</text>
<line x1="370.78" y1="96.23" x2="377.48" y2="96.23" stroke="#111" stroke-width="0.8" />
<text x="377.42" y="111.92" font-size="11.7" font-family="Liberation Serif" fill="#111" textLength="5.35" lengthAdjust="spacingAndGlyphs" >4</text>
<line x1="370.23" y1="108.94" x2="376.93" y2="108.94" stroke="#111" stroke-width="0.8" />
<text x="369.63" y="136.38" font-size="11.7" font-family="Liberation Serif" fill="#111" textLength="13.38" lengthAdjust="spacingAndGlyphs" >0.0</text>
<text x="369.64" y="154.2" font-size="11.7" font-family="Liberation Serif" fill="#111" textLength="13.38" lengthAdjust="spacingAndGlyphs" >0.5</text>
<line x1="362.65" y1="151.22" x2="369.35" y2="151.22" stroke="#111" stroke-width="0.8" />
<text x="369.63" y="172.02" font-size="11.7" font-family="Liberation Serif" fill="#111" textLength="13.38" lengthAdjust="spacingAndGlyphs" >1.0</text>
<line x1="363.17" y1="169.04" x2="369.87" y2="169.04" stroke="#111" stroke-width="0.8" />
<text x="369.64" y="189.84" font-size="11.7" font-family="Liberation Serif" fill="#111" textLength="13.38" lengthAdjust="spacingAndGlyphs" >1.5</text>
<line x1="363.18" y1="186.86" x2="369.88" y2="186.86" stroke="#111" stroke-width="0.8" />
<text x="369.63" y="207.66" font-size="11.7" font-family="Liberation Serif" fill="#111" textLength="13.38" lengthAdjust="spacingAndGlyphs" >2.0</text>
<line x1="362.7" y1="204.68" x2="369.4" y2="204.68" stroke="#111" stroke-width="0.8" />
<text x="369.64" y="225.48" font-size="11.7" font-family="Liberation Serif" fill="#111" textLength="13.38" lengthAdjust="spacingAndGlyphs" >2.5</text>
<line x1="362.71" y1="222.5" x2="369.41" y2="222.5" stroke="#111" stroke-width="0.8" />
<text x="134.29" y="9.69" font-size="12.28" font-family="Liberation Serif" fill="#222" textLength="13.12" lengthAdjust="spacingAndGlyphs" >pp</text>
<path d="M152.2 6.5 H163.6 M160.7 3.4 q1 2.3 3.2 3.1 q-2.2 0.8 -3.2 3.1" fill="none" stroke="#222" stroke-width="0.75" stroke-linecap="round"/>
<text x="169.09" y="9.21" font-size="12.69" font-family="Liberation Serif" fill="#222" textLength="11.64" lengthAdjust="spacingAndGlyphs" >W</text>
<line x1="182.5" y1="2.45" x2="187.9" y2="2.45" stroke="#222" stroke-width="0.65" />
<path d="M193.6 6.4 H205 M202.1 3.3 q1 2.3 3.2 3.1 q-2.2 0.8 -3.2 3.1" fill="none" stroke="#222" stroke-width="0.75" stroke-linecap="round"/>
<text x="210.39" y="9.76" font-size="14.22" font-family="Liberation Serif" font-style="italic" fill="#222" textLength="4.37" lengthAdjust="spacingAndGlyphs" >ℓ</text>
<text x="216.22" y="9.59" font-size="11.73" font-family="Liberation Serif" font-style="italic" fill="#222" textLength="5.88" lengthAdjust="spacingAndGlyphs" >ν</text>
<line x1="217.4" y1="1.55" x2="221.6" y2="1.55" stroke="#222" stroke-width="0.6" />
<text x="222.53" y="11.52" font-size="8.14" font-family="Liberation Serif" font-style="italic" fill="#222" textLength="3.51" lengthAdjust="spacingAndGlyphs" >ℓ</text>
<line x1="230.2" y1="6.5" x2="237.8" y2="6.5" stroke="#222" stroke-width="0.75" />
<line x1="234" y1="2.6" x2="234" y2="10.4" stroke="#222" stroke-width="0.75" />
<text x="242.24" y="9.55" font-size="13.67" font-family="Liberation Serif" fill="#222" textLength="8.68" lengthAdjust="spacingAndGlyphs" >X</text>
<text x="476.89" y="9.69" font-size="12.28" font-family="Liberation Serif" fill="#222" textLength="13.12" lengthAdjust="spacingAndGlyphs" >pp</text>
<path d="M494.8 6.5 H506.2 M503.3 3.4 q1 2.3 3.2 3.1 q-2.2 0.8 -3.2 3.1" fill="none" stroke="#222" stroke-width="0.75" stroke-linecap="round"/>
<text x="511.69" y="9.21" font-size="12.69" font-family="Liberation Serif" fill="#222" textLength="11.64" lengthAdjust="spacingAndGlyphs" >W</text>
<line x1="525.1" y1="2.45" x2="530.5" y2="2.45" stroke="#222" stroke-width="0.65" />
<path d="M536.2 6.4 H547.6 M544.7 3.3 q1 2.3 3.2 3.1 q-2.2 0.8 -3.2 3.1" fill="none" stroke="#222" stroke-width="0.75" stroke-linecap="round"/>
<text x="552.99" y="9.76" font-size="14.22" font-family="Liberation Serif" font-style="italic" fill="#222" textLength="4.37" lengthAdjust="spacingAndGlyphs" >ℓ</text>
<text x="558.82" y="9.59" font-size="11.73" font-family="Liberation Serif" font-style="italic" fill="#222" textLength="5.88" lengthAdjust="spacingAndGlyphs" >ν</text>
<line x1="560" y1="1.55" x2="564.2" y2="1.55" stroke="#222" stroke-width="0.6" />
<text x="565.13" y="11.52" font-size="8.14" font-family="Liberation Serif" font-style="italic" fill="#222" textLength="3.51" lengthAdjust="spacingAndGlyphs" >ℓ</text>
<line x1="572.8" y1="6.5" x2="580.4" y2="6.5" stroke="#222" stroke-width="0.75" />
<line x1="576.6" y1="2.6" x2="576.6" y2="10.4" stroke="#222" stroke-width="0.75" />
<text x="584.84" y="9.55" font-size="13.67" font-family="Liberation Serif" fill="#222" textLength="8.68" lengthAdjust="spacingAndGlyphs" >X</text>
<text x="187" y="250.23" font-size="13" font-family="Liberation Serif" font-style="italic" fill="#222" textLength="6.99" lengthAdjust="spacingAndGlyphs" >η</text>
<text x="194.33" y="252.1" font-size="10.07" font-family="Liberation Serif" font-style="italic" fill="#222" textLength="3.41" lengthAdjust="spacingAndGlyphs" >ℓ</text>
<text x="529.9" y="250.23" font-size="13" font-family="Liberation Serif" font-style="italic" fill="#222" textLength="6.99" lengthAdjust="spacingAndGlyphs" >η</text>
<text x="537.23" y="252.1" font-size="10.07" font-family="Liberation Serif" font-style="italic" fill="#222" textLength="3.41" lengthAdjust="spacingAndGlyphs" >ℓ</text>
<g transform="translate(11.3 82.7) rotate(-90)">
<line x1="-0.2" y1="-3.5" x2="13.4" y2="-3.5" stroke="#000" stroke-width="0.7" />
<text x="1" y="-5.39" font-size="8.52" font-family="Liberation Serif" font-style="italic" fill="#222" stroke="#222" stroke-width="0.15" textLength="9.79" lengthAdjust="spacingAndGlyphs" >dσ</text>
<text x="0.6" y="4.12" font-size="7.39" font-family="Liberation Serif" font-style="italic" fill="#222" stroke="#222" stroke-width="0.15" textLength="10.02" lengthAdjust="spacingAndGlyphs" >dη</text>
<text x="9.65" y="7.23" font-size="7.4" font-family="Liberation Serif" font-style="italic" fill="#222" stroke="#222" stroke-width="0.15" textLength="2.98" lengthAdjust="spacingAndGlyphs" >ℓ</text>
<path d="M22.6 -9.9 H20.3 V3 H22.6" fill="none" stroke="#222" stroke-width="0.8"/>
<path d="M34.1 -9.9 H36.4 V3 H34.1" fill="none" stroke="#222" stroke-width="0.8"/>
<text x="22.32" y="0.75" font-size="11.99" font-family="Liberation Serif" fill="#222" stroke="#222" stroke-width="0.15" textLength="5.73" lengthAdjust="spacingAndGlyphs" >p</text>
<text x="29.1" y="0.18" font-size="12.79" font-family="Liberation Serif" fill="#222" stroke="#222" stroke-width="0.15" textLength="5.52" lengthAdjust="spacingAndGlyphs" >b</text>
</g>
<g transform="translate(13.7 230.5) rotate(-90)">
<text x="-0.09" y="0" font-size="13.8" font-family="Liberation Serif" fill="#222" stroke="#222" stroke-width="0.15" textLength="88.29" lengthAdjust="spacingAndGlyphs" >NLO EW on/off</text>
<path d="M95.9 -9.9 H93.6 V3 H95.9" fill="none" stroke="#222" stroke-width="0.8"/>
<path d="M104.5 -9.9 H106.8 V3 H104.5" fill="none" stroke="#222" stroke-width="0.8"/>
<text x="95.36" y="0.38" font-size="16.51" font-family="Liberation Serif" fill="#222" stroke="#222" stroke-width="0.15" textLength="10.68" lengthAdjust="spacingAndGlyphs" >%</text>
</g>
<g transform="translate(362.9 117.3) rotate(-90)">
<text x="-0.09" y="0" font-size="13.8" font-family="Liberation Serif" fill="#222" stroke="#222" stroke-width="0.15" textLength="88.54" lengthAdjust="spacingAndGlyphs" >PDF uncertainty</text>
<path d="M97.3 -9.9 H95 V3 H97.3" fill="none" stroke="#222" stroke-width="0.8"/>
<path d="M105.5 -9.9 H107.8 V3 H105.5" fill="none" stroke="#222" stroke-width="0.8"/>
<text x="96.58" y="0.78" font-size="16.81" font-family="Liberation Serif" fill="#222" stroke="#222" stroke-width="0.15" textLength="10.13" lengthAdjust="spacingAndGlyphs" >%</text>
</g>
<g transform="translate(354.7 195.6) rotate(-90)">
<text x="-0.06" y="0" font-size="13.8" font-family="Liberation Serif" fill="#222" stroke="#222" stroke-width="0.15" textLength="20.01" lengthAdjust="spacingAndGlyphs" >Pull</text>
<path d="M29 -9.9 H26.7 V3 H29" fill="none" stroke="#222" stroke-width="0.8"/>
<path d="M34.8 -9.9 H37.1 V3 H34.8" fill="none" stroke="#222" stroke-width="0.8"/>
<text x="28.11" y="-0.1" font-size="10.66" font-family="Liberation Serif" font-style="italic" fill="#222" stroke="#222" stroke-width="0.15" textLength="6.37" lengthAdjust="spacingAndGlyphs" >σ</text>
</g>
<line x1="44.1" y1="120.1" x2="60.2" y2="120.1" stroke="#ff7c80" stroke-width="1.35" />
<text x="66.16" y="123.1" font-size="7.8" font-family="Liberation Serif" fill="#222" textLength="36.57" lengthAdjust="spacingAndGlyphs" >NLO QCD</text>
<line x1="106.5" y1="120.1" x2="122.5" y2="120.1" stroke="#8ea6ee" stroke-width="1.2" />
<text x="128.76" y="123.1" font-size="7.8" font-family="Liberation Serif" fill="#222" textLength="55.56" lengthAdjust="spacingAndGlyphs" >NLO QCD+EW</text>
<rect x="188" y="117.1" width="16.3" height="5.6" fill="#b3c3f3"/>
<text x="210.05" y="123.1" font-size="7.8" font-family="Liberation Serif" fill="#222" textLength="47.11" lengthAdjust="spacingAndGlyphs" >7-p. scale var.</text>
<line x1="268.6" y1="116.4" x2="268.6" y2="123.8" stroke="#4169e1" stroke-width="0.9" />
<line x1="267.9" y1="116.4" x2="269.3" y2="116.4" stroke="#4169e1" stroke-width="0.8" />
<line x1="267.9" y1="123.8" x2="269.3" y2="123.8" stroke="#4169e1" stroke-width="0.8" />
<text x="282.75" y="123.1" font-size="7.8" font-family="Liberation Serif" fill="#222" textLength="56.88" lengthAdjust="spacingAndGlyphs" >PDF uncertainty</text>
<line x1="385.4" y1="120.5" x2="401.6" y2="120.5" stroke="#5b80e6" stroke-width="1.05" />
<text x="407.56" y="123.1" font-size="7.8" font-family="Liberation Serif" fill="#222" textLength="37.35" lengthAdjust="spacingAndGlyphs" >NNPDF4.0</text>
<line x1="453.3" y1="120.5" x2="469.6" y2="120.5" stroke="#b4474a" stroke-width="1.05" />
<text x="475.56" y="123.1" font-size="7.8" font-family="Liberation Serif" fill="#222" textLength="37.94" lengthAdjust="spacingAndGlyphs" >NNPDF3.1</text>
<line x1="521.4" y1="120.5" x2="537.4" y2="120.5" stroke="#f9a43c" stroke-width="1.05" />
<text x="543.47" y="123.1" font-size="7.8" font-family="Liberation Serif" fill="#222" textLength="30.74" lengthAdjust="spacingAndGlyphs" >MSHT20</text>
<line x1="582.1" y1="120.5" x2="598.1" y2="120.5" stroke="#2a862a" stroke-width="1.05" />
<text x="604.05" y="123.1" font-size="7.8" font-family="Liberation Serif" fill="#222" textLength="19.17" lengthAdjust="spacingAndGlyphs" >CT18</text>
<line x1="631.2" y1="120.5" x2="647.5" y2="120.5" stroke="#a02aa8" stroke-width="1.05" />
<text x="654.12" y="123.1" font-size="7.8" font-family="Liberation Serif" fill="#222" textLength="30.51" lengthAdjust="spacingAndGlyphs" >ABMP16</text>
</g>
</svg>
</body></html>
